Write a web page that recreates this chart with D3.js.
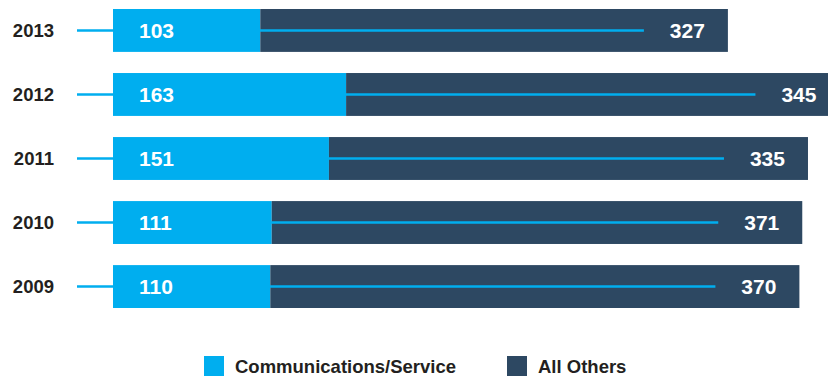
<!DOCTYPE html>
<html>
<head>
<meta charset="utf-8">
<script src="https://cdn.jsdelivr.net/npm/d3@7"></script>
<style>
  html, body { margin: 0; padding: 0; background: #fff; }
  svg { display: block; font-family: "Liberation Sans", Arial, sans-serif; }
</style>
</head>
<body>
<svg id="chart" width="828" height="377"></svg>
<script>
const years = ["2013", "2012", "2011", "2010", "2009"];
const commService = [103, 163, 151, 111, 110];
const allOthers = [327, 345, 335, 371, 370];
const seriesNames = ["Communications/Service", "All Others"];
const seriesColors = ["#00aeef", "#2d4862"];

const rows = years.map((y, i) => ({year: y, comm: commService[i], others: allOthers[i]}));

const svg = d3.select("#chart");

const x = d3.scaleLinear()
  .domain([0, 500])
  .range([113, 828]);

const y = d3.scaleBand()
  .domain(years)
  .range([9, 308])
  .paddingInner(0.33)
  .paddingOuter(0);

const color = d3.scaleOrdinal(seriesNames, seriesColors);

// stacked bars
const bar = svg.append("g")
  .selectAll("g")
  .data(rows)
  .join("g");

bar.append("rect")
  .attr("x", x(0))
  .attr("y", d => y(d.year))
  .attr("width", d => x(d.comm) - x(0))
  .attr("height", y.bandwidth())
  .attr("fill", color(seriesNames[0]));

bar.append("rect")
  .attr("x", d => x(d.comm))
  .attr("y", d => y(d.year))
  .attr("width", d => x(d.comm + d.others) - x(d.comm))
  .attr("height", y.bandwidth())
  .attr("fill", color(seriesNames[1]));

// thin guide line from the year label through the bar
bar.append("line")
  .attr("x1", 77)
  .attr("x2", d => x(d.comm + d.others) - 84)
  .attr("y1", d => y(d.year) + y.bandwidth() / 2)
  .attr("y2", d => y(d.year) + y.bandwidth() / 2)
  .attr("stroke", color(seriesNames[0]))
  .attr("stroke-width", 2.5);

// year labels
bar.append("text")
  .attr("x", 54)
  .attr("y", d => y(d.year) + y.bandwidth() / 2)
  .attr("dy", "0.36em")
  .attr("text-anchor", "end")
  .attr("font-size", 18.5)
  .attr("font-weight", "bold")
  .attr("fill", "#231f20")
  .text(d => d.year);

// values
bar.append("text")
  .attr("x", x(0) + 26)
  .attr("y", d => y(d.year) + y.bandwidth() / 2)
  .attr("dy", "0.36em")
  .attr("font-size", 21)
  .attr("font-weight", "bold")
  .attr("fill", "#fff")
  .text(d => d.comm);

bar.append("text")
  .attr("x", d => x(d.comm + d.others) - 23)
  .attr("y", d => y(d.year) + y.bandwidth() / 2)
  .attr("dy", "0.36em")
  .attr("text-anchor", "end")
  .attr("font-size", 21)
  .attr("font-weight", "bold")
  .attr("fill", "#fff")
  .text(d => d.others);

// legend
const legendX = [204, 507];
const legend = svg.append("g")
  .selectAll("g")
  .data(seriesNames)
  .join("g")
  .attr("transform", (d, i) => `translate(${legendX[i]},356)`);

legend.append("rect")
  .attr("width", 20)
  .attr("height", 20)
  .attr("fill", d => color(d));

legend.append("text")
  .attr("x", 31)
  .attr("y", 17)
  .attr("font-size", 18.5)
  .attr("font-weight", "bold")
  .attr("fill", "#231f20")
  .text(d => d);
</script>
</body>
</html>
